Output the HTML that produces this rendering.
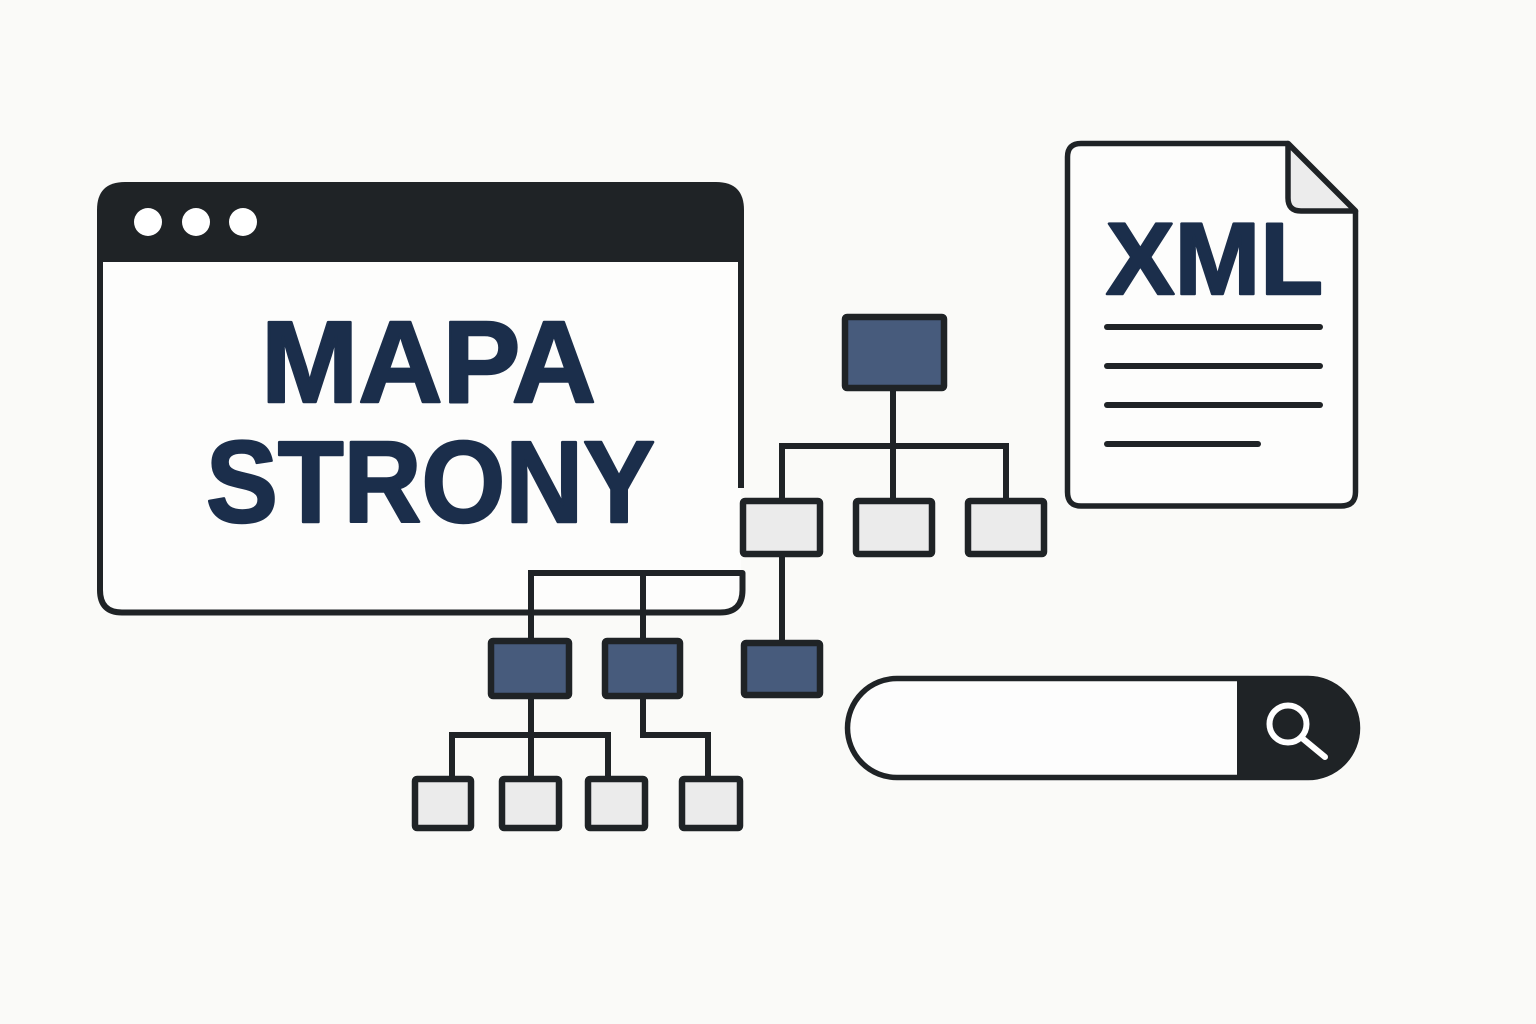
<!DOCTYPE html>
<html>
<head>
<meta charset="utf-8">
<style>
  html,body{margin:0;padding:0;background:#fafaf8;}
  body{width:1536px;height:1024px;overflow:hidden;}
  svg{display:block;}
  .t{font-family:"Liberation Sans", Arial, sans-serif;font-weight:bold;fill:#1b2e4b;stroke:#1b2e4b;stroke-width:2.5;stroke-linejoin:round;}
</style>
</head>
<body>
<svg width="1536" height="1024" viewBox="0 0 1536 1024" xmlns="http://www.w3.org/2000/svg">
  <rect width="1536" height="1024" fill="#fafaf8"/>

  <!-- Browser window -->
  <rect x="100" y="250" width="641" height="362" fill="#fdfdfc"/>
  <path d="M97,262 V210 Q97,182 125,182 H716 Q744,182 744,210 V262 Z" fill="#1f2326"/>
  <circle cx="148" cy="222" r="14" fill="#ffffff"/>
  <circle cx="196" cy="222" r="14" fill="#ffffff"/>
  <circle cx="243" cy="222" r="14" fill="#ffffff"/>
  <g fill="none" stroke="#1f2326" stroke-width="6" stroke-linejoin="round">
    <path d="M100,240 V590 Q100,612.5 122,612.5 H720 Q742.5,612.5 742.5,590 V573 H528"/>
    <path d="M741,255 V488"/>
  </g>
  <text class="t" x="261" y="402" font-size="116" textLength="335" lengthAdjust="spacingAndGlyphs">MAPA</text>
  <text class="t" x="206" y="522" font-size="116" textLength="449" lengthAdjust="spacingAndGlyphs">STRONY</text>

  <!-- Tree connectors -->
  <g fill="none" stroke="#1f2326" stroke-width="6" stroke-linecap="square">
    <path d="M893,391 V446"/>
    <path d="M782,498 V446 H1006 V498"/>
    <path d="M893,446 V498"/>
    <path d="M782,557 V640"/>
    <path d="M531,573 V638"/>
    <path d="M643,573 V638"/>
    <path d="M531,699 V735"/>
    <path d="M452,776 V735 H608 V776"/>
    <path d="M531,735 V776"/>
    <path d="M643,699 V735 H708 V776"/>
  </g>

  <!-- Tree nodes -->
  <g stroke="#1f2326" stroke-width="6.5" stroke-linejoin="round">
    <rect x="845" y="317" width="99" height="71" rx="2" fill="#475b7c"/>
    <rect x="743" y="501" width="77" height="53" rx="2" fill="#ebebeb"/>
    <rect x="856" y="501" width="76" height="53" rx="2" fill="#ebebeb"/>
    <rect x="968" y="501" width="76" height="53" rx="2" fill="#ebebeb"/>
    <rect x="491" y="641" width="78" height="55" rx="2" fill="#475b7c"/>
    <rect x="605" y="641" width="75" height="55" rx="2" fill="#475b7c"/>
    <rect x="744" y="643" width="76" height="52" rx="2" fill="#475b7c"/>
    <rect x="415" y="779" width="56" height="49" rx="2" fill="#ebebeb"/>
    <rect x="502" y="779" width="57" height="49" rx="2" fill="#ebebeb"/>
    <rect x="588" y="779" width="57" height="49" rx="2" fill="#ebebeb"/>
    <rect x="682" y="779" width="58" height="49" rx="2" fill="#ebebeb"/>
  </g>

  <!-- XML document -->
  <path d="M1081,143.5 H1288 L1355.5,211 V492 Q1355.5,506 1341,506 H1081 Q1067.5,506 1067.5,492 V157 Q1067.5,143.5 1081,143.5 Z" fill="#fdfdfc" stroke="#1f2326" stroke-width="5.5" stroke-linejoin="round"/>
  <path d="M1288,143.5 V198 Q1288,211 1301,211 H1355.5 Z" fill="#ececec" stroke="#1f2326" stroke-width="5.5" stroke-linejoin="round"/>
  <text class="t" x="1106" y="294" font-size="102" textLength="217" lengthAdjust="spacingAndGlyphs">XML</text>
  <g stroke="#1f2326" stroke-width="6" stroke-linecap="round">
    <line x1="1107" y1="327" x2="1320" y2="327"/>
    <line x1="1107" y1="366" x2="1320" y2="366"/>
    <line x1="1107" y1="405" x2="1320" y2="405"/>
    <line x1="1107" y1="444" x2="1258" y2="444"/>
  </g>

  <!-- Search bar -->
  <rect x="847.5" y="678.5" width="510" height="99" rx="49.5" fill="#fdfdfd" stroke="#1f2326" stroke-width="5.5"/>
  <path d="M1237,676 H1308 A52,52 0 0 1 1308,780 H1237 Z" fill="#1f2326"/>
  <circle cx="1288" cy="724" r="18.5" fill="none" stroke="#ffffff" stroke-width="6"/>
  <line x1="1302" y1="738" x2="1325" y2="757" stroke="#ffffff" stroke-width="6" stroke-linecap="round"/>
</svg>
</body>
</html>
